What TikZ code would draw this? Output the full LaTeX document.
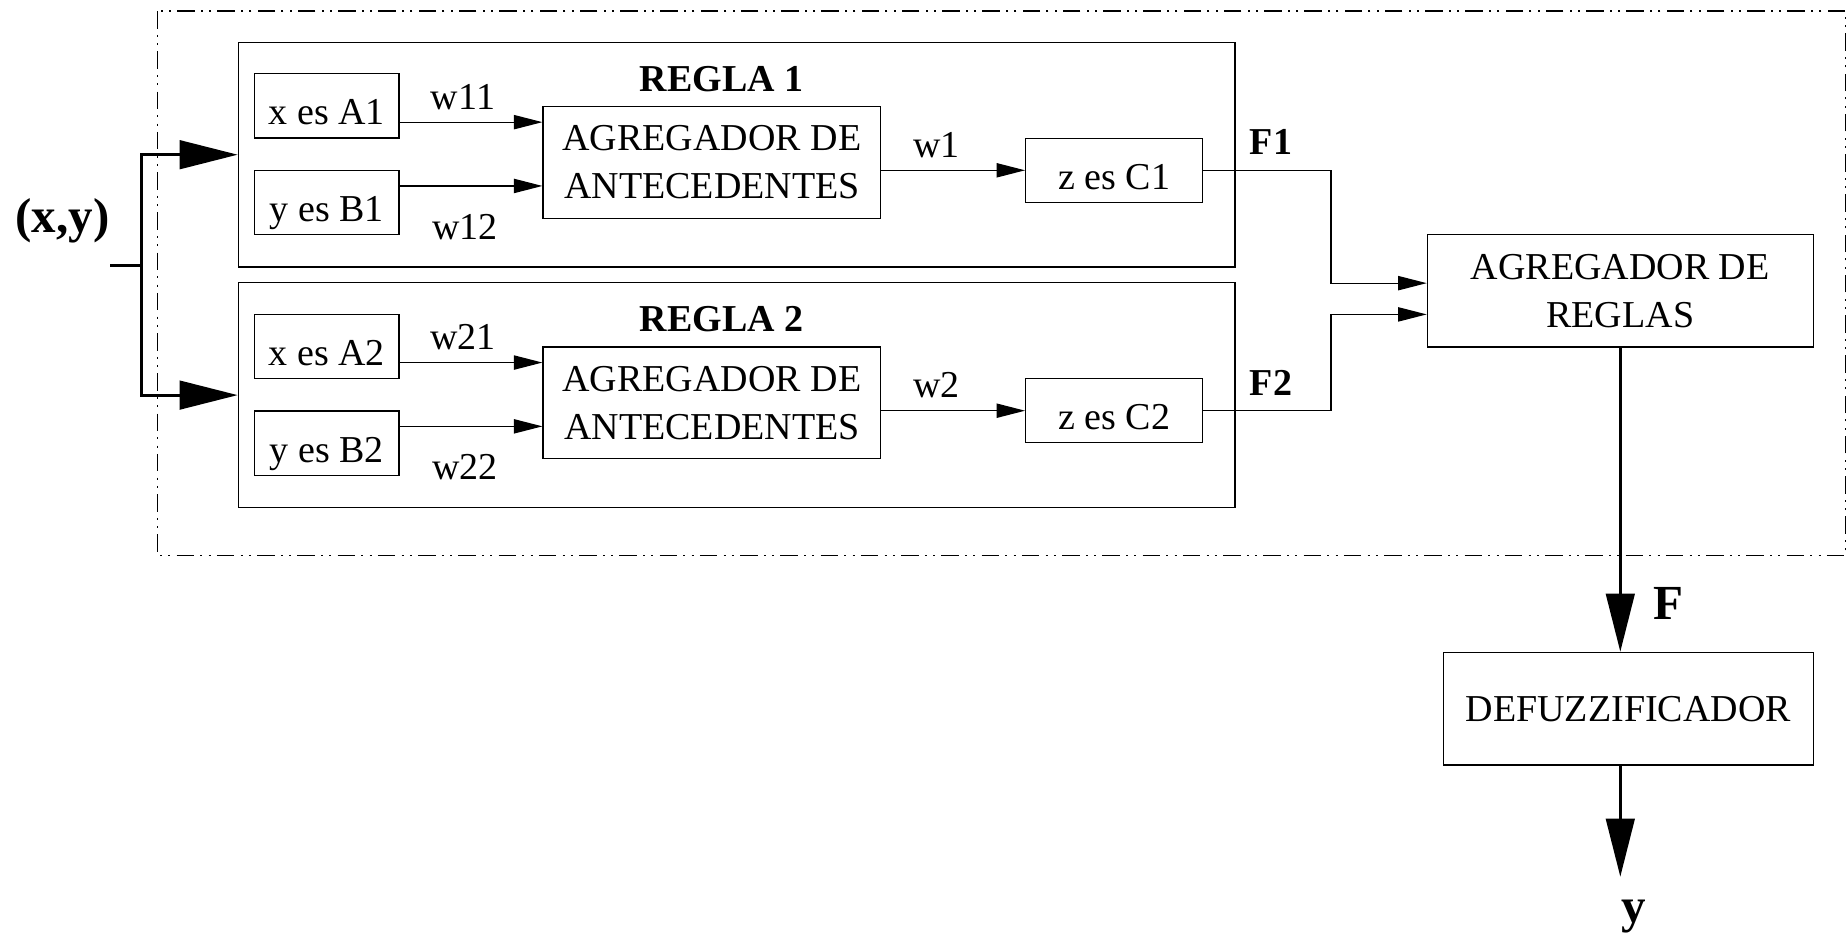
\documentclass[tikz,border=0pt]{standalone}
\usepackage{fontspec}
\setmainfont{Liberation Serif}
\usetikzlibrary{arrows.meta,positioning}

\tikzset{
  caja/.style={draw,line width=0.5pt,inner sep=2pt,font=\fontsize{15.2pt}{19.1pt}\selectfont},
  cajita/.style={caja,text height=16.7pt,text depth=1.5pt},
  etiq/.style={font=\fontsize{15.2pt}{19.1pt}\selectfont,inner sep=0pt},
  titulo/.style={font=\fontsize{15.2pt}{19.1pt}\selectfont\bfseries,inner sep=0pt},
  grande/.style={font=\fontsize{19.6pt}{23pt}\selectfont\bfseries,inner sep=0pt},
  flecha/.style={-{Triangle[length=11.4pt,width=5.7pt]},line width=0.5pt},
  flechota/.style={-{Triangle[length=23.2pt,width=11.4pt]},line width=1.2pt},
  rayapunto/.style={line width=0.5pt,dash pattern=on 7pt off 2.5pt on 0.8pt off 2.5pt on 0.8pt off 2.5pt}
}

\begin{document}
\begin{tikzpicture}[x=0.4pt,y=-0.4pt]
  \useasboundingbox (0,0) rectangle (1847,934);
  %\draw[color=gray,step=50,help lines,opacity=0.3] (0,0) grid (1847,934); %help grid
  \draw[rayapunto] (157.7,11) rectangle (1845.3,555.7);

  % regla 1
  \node[caja,minimum width=398.7pt,minimum height=89.9pt] (regla1) at (736.7,154.7) {};
  \node[cajita,minimum width=57.9pt,minimum height=25.7pt] (xA1) at (326.7,105.9) {x es A1};
  \node[cajita,minimum width=57.9pt,minimum height=25.7pt] (yB1) at (326.7,202.7) {y es B1};
  \node[caja,align=center,minimum width=135.1pt,minimum height=44.7pt] (agr1) at (711.9,162.4) {AGREGADOR DE\\ANTECEDENTES};
  \node[cajita,minimum width=70.8pt,minimum height=25.6pt] (zC1) at (1114.2,170.3) {z es C1};
  \node[titulo] (t1) at (721.7,79) {REGLA 1};
  \node[etiq] (w11) at (463,96.7) {w11};
  \node[etiq] (w12) at (465,226.7) {w12};
  \node[etiq] (w1) at (936.7,145) {w1};
  \node[titulo] (F1) at (1271,141.7) {F1};
  \coordinate (a11) at ([yshift=-6.5pt]xA1.east);
  \coordinate (a12) at ([yshift=6.7pt]yB1.east);
  \draw[flecha] (a11) -- (a11 -| agr1.west);
  \draw[flecha] (a12) -- (a12 -| agr1.west);
  \draw[flecha] (agr1.east |- zC1.west) -- (zC1.west);

  % regla 2
  \node[caja,minimum width=398.7pt,minimum height=89.9pt] (regla2) at (736.7,395.1) {};
  \node[cajita,minimum width=57.9pt,minimum height=25.7pt] (xA2) at (326.7,346.3) {x es A2};
  \node[cajita,minimum width=57.9pt,minimum height=25.7pt] (yB2) at (326.7,443.1) {y es B2};
  \node[caja,align=center,minimum width=135.1pt,minimum height=44.7pt] (agr2) at (711.9,402.8) {AGREGADOR DE\\ANTECEDENTES};
  \node[cajita,minimum width=70.8pt,minimum height=25.6pt] (zC2) at (1114.2,410.7) {z es C2};
  \node[titulo] (t2) at (721.7,319.4) {REGLA 2};
  \node[etiq] (w21) at (463,337.1) {w21};
  \node[etiq] (w22) at (465,467.1) {w22};
  \node[etiq] (w2) at (936.7,385.4) {w2};
  \node[titulo] (F2) at (1271,382.8) {F2};
  \coordinate (a21) at ([yshift=-6.5pt]xA2.east);
  \coordinate (a22) at ([yshift=6.7pt]yB2.east);
  \draw[flecha] (a21) -- (a21 -| agr2.west);
  \draw[flecha] (a22) -- (a22 -| agr2.west);
  \draw[flecha] (agr2.east |- zC2.west) -- (zC2.west);

  % entrada
  \node[grande] (xy) at (62.5,221) {(x,y)};
  \coordinate (entrada) at (110,265.7);
  \coordinate (bif) at (141.7,265.7);
  \draw[line width=1.2pt] (entrada) -- (bif);
  \draw[flechota] (bif) |- (regla1.west);
  \draw[flechota] (bif) |- (regla2.west);

  % agregador y defuzzificador
  \node[caja,align=center,minimum width=154.4pt,minimum height=44.9pt] (agrR) at (1620.3,290.9) {AGREGADOR DE\\REGLAS};
  \node[caja,minimum width=148pt,minimum height=45.1pt] (defuz) at (1628.3,708.7) {DEFUZZIFICADOR};
  \coordinate (bus) at (1331,0);
  \draw[flecha] (zC1.east) -- (zC1.east -| bus) |- ([yshift=3.1pt]agrR.west);
  \draw[flecha] (zC2.east) -- (zC2.east -| bus) |- ([yshift=-9.4pt]agrR.west);
  \draw[flechota] (agrR.south) -- (agrR.south |- defuz.north);
  \node[grande] (F) at (1668.3,603.3) {F};
  \coordinate (salida) at (1620.3,876.7);
  \draw[flechota] (defuz.south -| salida) -- (salida);
  \node[grande] (y) at (1633.3,917) {y};
\end{tikzpicture}
\end{document}
